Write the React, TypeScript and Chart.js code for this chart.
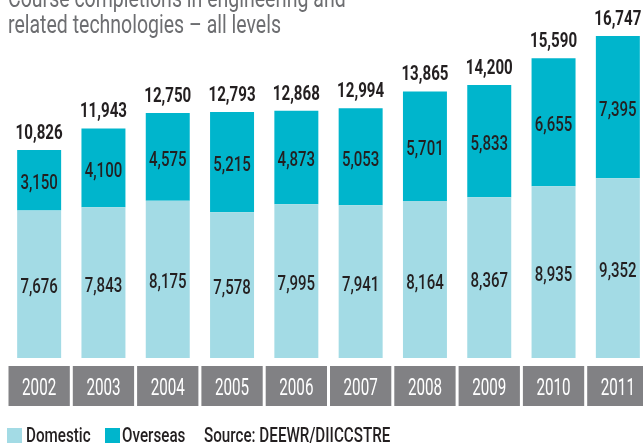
import React, { useEffect, useRef } from "react";
import { Chart, registerables } from "chart.js";

Chart.register(...registerables);

const years = ["2002", "2003", "2004", "2005", "2006", "2007", "2008", "2009", "2010", "2011"];
const domestic = [7676, 7843, 8175, 7578, 7995, 7941, 8164, 8367, 8935, 9352];
const overseas = [3150, 4100, 4575, 5215, 4873, 5053, 5701, 5833, 6655, 7395];
const titleLines = ["Course completions in engineering and", "related technologies – all levels"];
const legendItems = ["Domestic", "Overseas"];
const sourceText = "Source: DEEWR/DIICCSTRE";

const FONT = "Roboto, 'Noto Sans', sans-serif";
const C_DOM = "#a3dbe5";
const C_OVR = "#00b5cc";
const C_BOX = "#818184";
const C_TEXT = "#231f20";

const fmt = (v: number) => v.toLocaleString("en-US");

function cText(ctx: CanvasRenderingContext2D, text: string, x: number, y: number, sx: number) {
  ctx.save();
  ctx.translate(x, y);
  ctx.scale(sx, 1);
  ctx.fillText(text, 0, 0);
  ctx.restore();
}

export default function App() {
  const ref = useRef<HTMLCanvasElement | null>(null);
  useEffect(() => {
    if (!ref.current) return;
    const decor = {
      id: "decor",
      beforeDraw(chart: any) {
        const ctx = chart.ctx;
        const x = chart.scales.x;
        ctx.save();
        const step = x.getPixelForValue(1) - x.getPixelForValue(0);
        ctx.textAlign = "center";
        ctx.textBaseline = "alphabetic";
        ctx.font = `23px ${FONT}`;
        years.forEach((y, i) => {
          const cx = x.getPixelForValue(i);
          ctx.fillStyle = C_BOX;
          ctx.fillRect(cx - step / 2 + 1.5, 366, step - 3, 40);
          ctx.fillStyle = "#ffffff";
          cText(ctx, y, cx, 395, 0.66);
        });
        ctx.fillStyle = "#6d6e71";
        ctx.font = `26px ${FONT}`;
        ctx.textAlign = "left";
        cText(ctx, titleLines[0], 8, 7, 0.75);
        cText(ctx, titleLines[1], 8, 33, 0.75);
        ctx.restore();
      },
      afterDatasetsDraw(chart: any) {
        const ctx = chart.ctx;
        ctx.save();
        ctx.textAlign = "center";
        ctx.textBaseline = "alphabetic";
        ctx.fillStyle = C_TEXT;
        ctx.font = `500 20px ${FONT}`;
        chart.data.datasets.forEach((ds: any, di: number) => {
          const meta = chart.getDatasetMeta(di);
          meta.data.forEach((el: any, i: number) => {
            const p = el.getProps(["x", "y", "base"], true);
            cText(ctx, fmt(ds.data[i]), p.x, (p.y + p.base) / 2 + 9, 0.75);
          });
        });
        const top = chart.getDatasetMeta(1);
        ctx.font = `bold 21px ${FONT}`;
        top.data.forEach((el: any, i: number) => {
          const p = el.getProps(["x", "y"], true);
          cText(ctx, fmt(domestic[i] + overseas[i]), p.x, p.y - 11, 0.72);
        });
        ctx.textAlign = "left";
        ctx.font = `500 20px ${FONT}`;
        ctx.fillStyle = C_DOM;
        ctx.fillRect(7, 428, 15, 15);
        ctx.fillStyle = C_TEXT;
        cText(ctx, legendItems[0], 26, 442, 0.76);
        ctx.fillStyle = C_OVR;
        ctx.fillRect(105, 428, 15, 15);
        ctx.fillStyle = C_TEXT;
        cText(ctx, legendItems[1], 122, 442, 0.76);
        cText(ctx, sourceText, 204, 442, 0.76);
        ctx.restore();
      },
    };
    const chart = new Chart(ref.current, {
      type: "bar",
      data: {
        labels: years,
        datasets: [
          { label: legendItems[0], data: domestic, backgroundColor: C_DOM, barPercentage: 0.684, categoryPercentage: 1 },
          { label: legendItems[1], data: overseas, backgroundColor: C_OVR, barPercentage: 0.684, categoryPercentage: 1 },
        ],
      },
      options: {
        responsive: false,
        animation: false,
        layout: { padding: { left: 7, right: 10, top: 12, bottom: 85 } },
        plugins: { legend: { display: false }, title: { display: false }, tooltip: { enabled: false } },
        scales: {
          x: { stacked: true, display: false },
          y: { stacked: true, display: false, min: 0, max: 18000 },
        },
      },
      plugins: [decor],
    });
    return () => chart.destroy();
  }, []);
  return (
    <div style={{ position: "fixed", left: 0, top: 0, width: 643, height: 443, overflow: "hidden", background: "#fff" }}>
      <canvas ref={ref} width={660} height={443} style={{ display: "block" }} />
    </div>
  );
}
